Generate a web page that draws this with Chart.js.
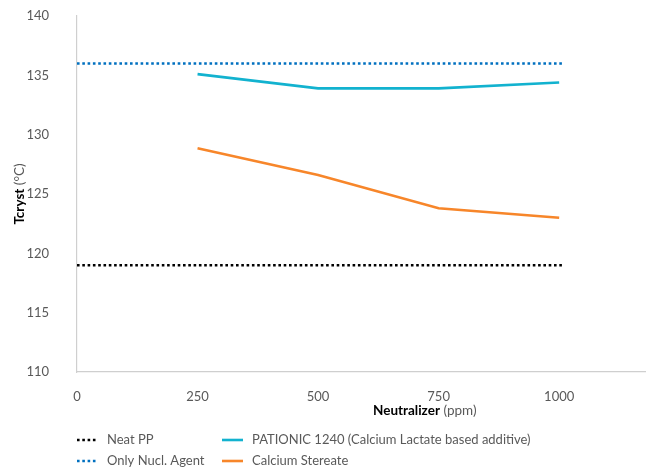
<!DOCTYPE html>
<html>
<head>
<meta charset="utf-8">
<script src="https://cdn.jsdelivr.net/npm/chart.js@4/dist/chart.umd.min.js"></script>
<style>
html,body{margin:0;padding:0;background:#fff}
#wrap{width:648px;height:470px;position:relative}
</style>
</head>
<body>
<div id="wrap"><canvas id="grafico" width="648" height="470"></canvas></div>
<script>
// dados
const neutralizer=[250,500,750,1000]
const pationic=[135.1,133.9,133.9,134.4]
const stearate=[128.85,126.6,123.8,123.0]
const refSpan=[0,1008]
const neatPP=119
const nuclAgent=136
const xTicks=[0,250,500,750,1000]
const yMin=110, yMax=140, yStep=5

const labels=["Neat PP","Only Nucl. Agent","PATIONIC 1240 (Calcium Lactate based additive)","Calcium Stereate"]
const cores=["#000000","#0070c0","#12b2cf","#f7862a"]

const fonte="Lato"
const cinza="#595959"

function pts(xs,ys){
return xs.map((x,i)=>({x:x,y:Array.isArray(ys)?ys[i]:ys}))
}

// titulos com parte em negrito + legenda em duas colunas
const extras={
id:"extras",
afterDraw(chart){
const ctx=chart.ctx
const a=chart.chartArea
ctx.save()
ctx.textBaseline="middle"
ctx.textAlign="left"

// titulo eixo x
const b1="Neutralizer", r1=" (ppm)"
ctx.font="bold 13.5px "+fonte
const w1=ctx.measureText(b1).width
const sx=373
ctx.fillStyle="#000"
ctx.fillText(b1,sx,411)
ctx.fillStyle=cinza
ctx.font="13.5px "+fonte
ctx.fillText(r1,sx+w1,411)

// titulo eixo y
ctx.save()
ctx.translate(20,(a.top+a.bottom)/2)
ctx.rotate(-Math.PI/2)
const b2="Tcryst", r2=" (°C)"
ctx.font="bold 13.5px "+fonte
const w3=ctx.measureText(b2).width
ctx.font="13.5px "+fonte
const w4=ctx.measureText(r2).width
ctx.fillStyle="#000"
ctx.font="bold 13.5px "+fonte
ctx.fillText(b2,-(w3+w4)/2,0)
ctx.fillStyle=cinza
ctx.font="13.5px "+fonte
ctx.fillText(r2,-(w3+w4)/2+w3,0)
ctx.restore()

// legenda
const pos=[[77,440],[77,461],[222,440],[222,461]]
chart.data.datasets.forEach((ds,i)=>{
const [lx,ly]=pos[i]
ctx.strokeStyle=ds.borderColor
ctx.lineWidth=2.6
ctx.setLineDash(ds.borderDash||[])
ctx.beginPath()
ctx.moveTo(lx,ly)
ctx.lineTo(lx+21,ly)
ctx.stroke()
ctx.setLineDash([])
ctx.fillStyle=cinza
ctx.font="13px "+fonte
ctx.fillText(ds.label,lx+30,ly)
})
ctx.restore()
}
}

const grafico=new Chart(document.getElementById("grafico"),{
type:"line",
data:{
datasets:[
{label:labels[0],data:pts(refSpan,neatPP),borderColor:cores[0],borderWidth:2.6,borderDash:[2.6,2.7],pointRadius:0},
{label:labels[1],data:pts(refSpan,nuclAgent),borderColor:cores[1],borderWidth:2.6,borderDash:[2.6,2.7],pointRadius:0},
{label:labels[2],data:pts(neutralizer,pationic),borderColor:cores[2],borderWidth:2.6,pointRadius:0},
{label:labels[3],data:pts(neutralizer,stearate),borderColor:cores[3],borderWidth:2.6,pointRadius:0}
]
},
options:{
responsive:false,
animation:false,
layout:{padding:{top:0,right:3,left:0,bottom:0}},
plugins:{legend:{display:false},tooltip:{enabled:false}},
scales:{
x:{
type:"linear",
min:0,
max:1178,
grid:{display:false},
border:{display:true,color:"#cfcfcf",width:1.2},
afterBuildTicks(s){s.ticks=xTicks.map(v=>({value:v}))},
afterFit(s){s.height=98},
ticks:{color:cinza,font:{family:fonte,size:13},padding:9,maxRotation:0,callback:v=>String(v)}
},
y:{
min:yMin,
max:yMax,
grid:{display:false},
border:{display:true,color:"#cfcfcf",width:1.2},
afterFit(s){s.width=77;s.paddingTop=16;s.paddingBottom=8},
ticks:{stepSize:yStep,color:cinza,font:{family:fonte,size:13},padding:20}
}
}
},
plugins:[extras]
})
</script>
</body>
</html>
